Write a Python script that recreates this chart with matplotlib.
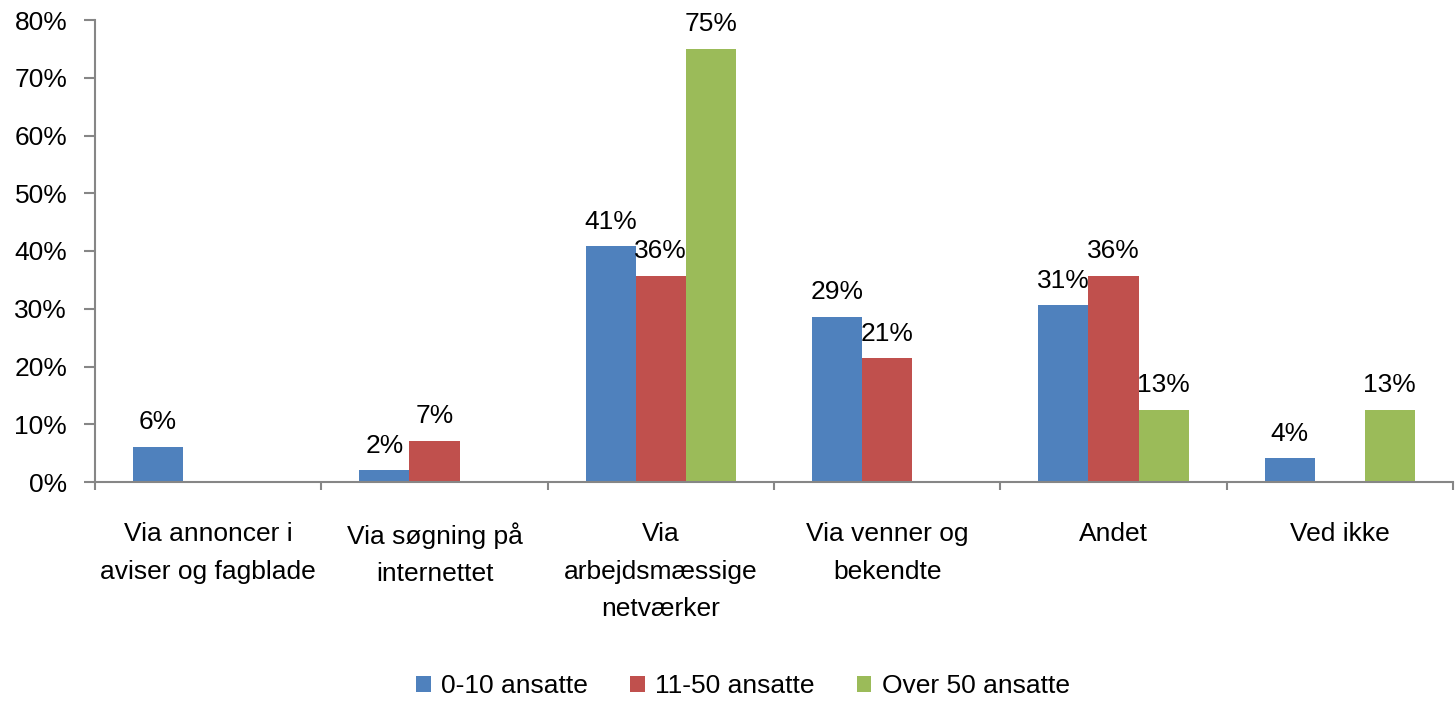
import numpy as np
import matplotlib.pyplot as plt

plt.rcParams['font.family'] = ['Liberation Sans', 'DejaVu Sans']

categories = ['Via annoncer i\naviser og fagblade', 'Via søgning på\ninternettet',
              'Via\narbejdsmæssige\nnetværker', 'Via venner og\nbekendte', 'Andet', 'Ved ikke']
series_names = ['0-10 ansatte', '11-50 ansatte', 'Over 50 ansatte']
small = [6.1, 2.0, 40.8, 28.6, 30.6, 4.1]
medium = [0, 7.1, 35.7, 21.4, 35.7, 0]
large = [0, 0, 75.0, 0, 12.5, 12.5]
colors = ['#4F81BD', '#C0504D', '#9BBB59']

axis_grey = '#868686'
fs = 19

fig = plt.figure(figsize=(14.55, 7.01), dpi=100)
ax = fig.add_axes([95 / 1455, 1 - 482 / 701, (1453 - 95) / 1455, (482 - 20) / 701])

x = np.arange(len(categories))
w = 0.221
for i, (vals, c, name) in enumerate(zip([small, medium, large], colors, series_names)):
    pos = x + (i - 1) * w
    ax.bar(pos, vals, width=w, color=c, label=name)
    for p, v in zip(pos, vals):
        if v > 0:
            ax.annotate('%d%%' % int(v + 0.5), (p, v), xytext=(0, 9), textcoords='offset points',
                        ha='center', va='bottom', fontsize=fs)

ax.set_xlim(-0.5, len(categories) - 0.5)
ax.set_ylim(0, 80)
ax.set_yticks(np.arange(0, 81, 10))
ax.set_yticklabels(['%d%%' % t for t in range(0, 81, 10)])

ax.set_xticks(np.arange(-0.5, len(categories), 1.0))
ax.set_xticklabels([])
ax.set_xticks(x, minor=True)
ax.set_xticklabels(categories, minor=True, fontsize=fs, linespacing=1.7)
ax.tick_params(axis='x', which='minor', length=0, pad=29)
ax.tick_params(axis='x', which='major', length=6, color=axis_grey, width=1.5, direction='out')
ax.tick_params(axis='y', length=8, color=axis_grey, width=1.5, pad=12, labelsize=fs)

for s in ['top', 'right']:
    ax.spines[s].set_visible(False)
for s in ['left', 'bottom']:
    ax.spines[s].set_color(axis_grey)
    ax.spines[s].set_linewidth(1.5)

fig.legend(loc='center', bbox_to_anchor=(743 / 1455, 1 - 686 / 701), ncol=3, frameon=False,
           fontsize=fs, handlelength=0.55, handleheight=0.55, handletextpad=0.4, columnspacing=1.6)

fig.savefig('out.png', dpi=100)
